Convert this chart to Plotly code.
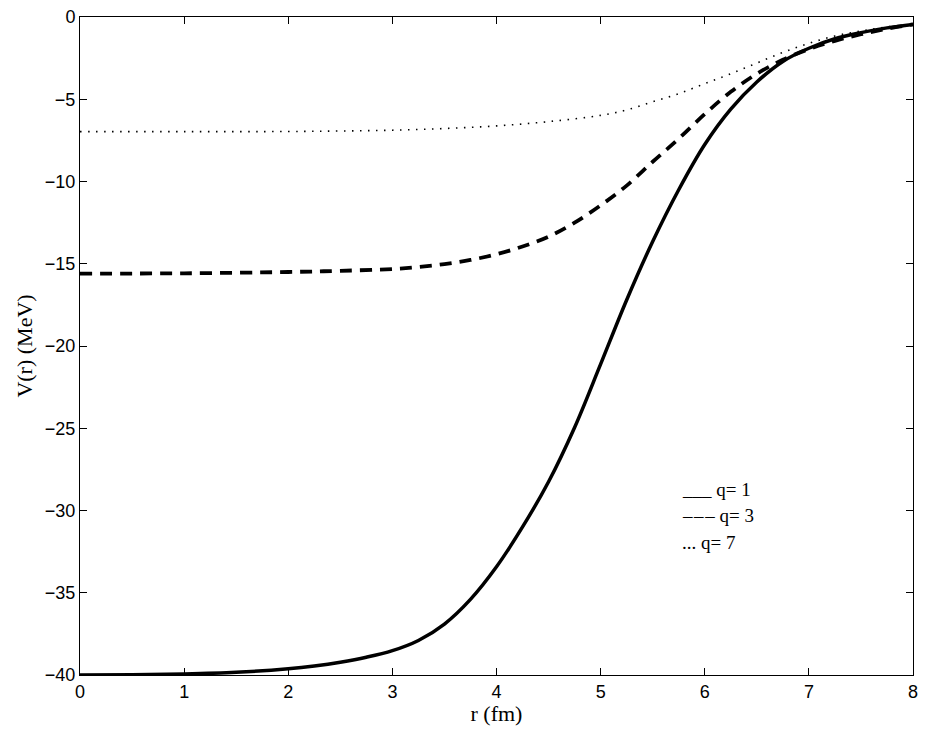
import plotly.graph_objects as go

# q = 1 (solid)
r_q1 = [0, 0.5, 1, 1.5, 2, 2.25, 2.5, 2.75, 3, 3.25, 3.5, 3.75, 4, 4.25, 4.5, 4.75,
        5, 5.25, 5.5, 5.75, 6, 6.25, 6.5, 6.75, 7, 7.25, 7.5, 7.75, 8]
v_q1 = [-40, -39.98, -39.94, -39.84, -39.62, -39.45, -39.22, -38.92, -38.52, -37.9,
        -36.9, -35.4, -33.42, -31.0, -28.25, -24.95, -21.1, -17.2, -13.65, -10.5, -7.75,
        -5.6, -3.95, -2.7, -1.9, -1.32, -0.95, -0.66, -0.45]

# q = 3 (dashed)
r_q3 = [0, 1, 2, 2.5, 3, 3.25, 3.5, 3.75, 4, 4.25, 4.5, 4.75, 5, 5.25, 5.5, 5.75,
        6, 6.25, 6.5, 6.75, 7, 7.25, 7.5, 7.75, 8]
v_q3 = [-15.6, -15.58, -15.5, -15.43, -15.32, -15.2, -15.02, -14.77, -14.42, -13.95,
        -13.35, -12.5, -11.45, -10.25, -8.8, -7.4, -5.9, -4.55, -3.45, -2.6, -1.95,
        -1.45, -1.05, -0.72, -0.45]

# q = 7 (dotted)
r_q7 = [0, 1, 2, 2.5, 3, 3.5, 4, 4.5, 5, 5.25, 5.5, 5.75, 6, 6.25, 6.5, 6.75, 7,
        7.25, 7.5, 7.75, 8]
v_q7 = [-6.97, -6.97, -6.96, -6.93, -6.88, -6.78, -6.62, -6.36, -5.98, -5.65, -5.15,
        -4.66, -4.05, -3.45, -2.8, -2.15, -1.6, -1.15, -0.85, -0.6, -0.43]

legend_lines = ["___ q= 1", "–\u200a–\u200a– q= 3", "... q= 7"]
legend_y = [-28.75, -30.3, -31.95]

fig = go.Figure()
fig.add_trace(go.Scatter(x=r_q1, y=v_q1, mode="lines", line_shape="spline",
                         line=dict(color="black", width=3.5)))
fig.add_trace(go.Scatter(x=r_q3, y=v_q3, mode="lines", line_shape="spline",
                         line=dict(color="black", width=3.8, dash="12px,8px")))
fig.add_trace(go.Scatter(x=r_q7, y=v_q7, mode="lines", line_shape="spline",
                         line=dict(color="black", width=1.6, dash="1.5px,6.5px")))

for txt, yy in zip(legend_lines, legend_y):
    fig.add_annotation(x=5.76, y=yy, text=txt, showarrow=False, xanchor="left",
                       font=dict(family="Liberation Serif", size=19, color="black"))

axis = dict(showline=True, linecolor="black", linewidth=1, mirror="ticks",
            ticks="inside", ticklen=7, tickcolor="black", showgrid=False,
            zeroline=False, ticklabeloverflow="allow", automargin=False,
            tickfont=dict(family="Liberation Sans", size=18, color="black"),
            title_font=dict(family="Liberation Serif", size=22, color="black"))

fig.update_xaxes(range=[0, 8], dtick=1, title_text="r (fm)", title_standoff=2, **axis)
fig.update_yaxes(range=[-40, 0], dtick=5, title_text="V(r) (MeV)", title_standoff=6, **axis)

# the page body has an 8px margin, so the margins here are 8px smaller than the picture's
fig.update_layout(width=910, height=718, showlegend=False,
                  paper_bgcolor="white", plot_bgcolor="white",
                  margin=dict(l=72, r=5, t=9, b=51))

fig.write_html("out.html")
